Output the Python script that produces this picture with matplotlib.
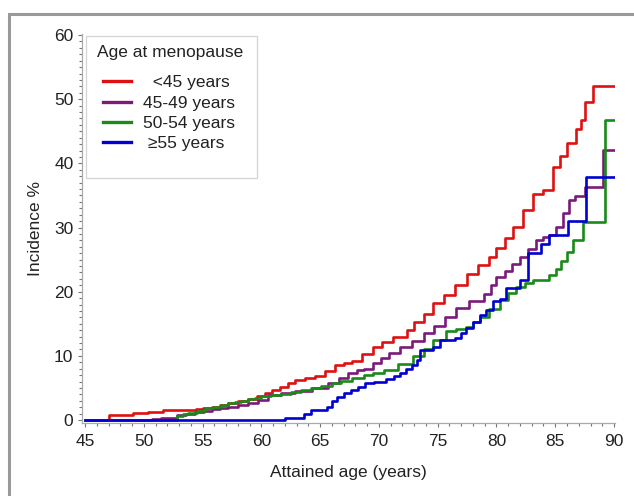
import matplotlib
matplotlib.use("Agg")
import matplotlib.pyplot as plt
from matplotlib.patches import Rectangle
from matplotlib.ticker import MultipleLocator

plt.rcParams['font.family'] = ['Liberation Sans', 'DejaVu Sans']

# cumulative incidence (%) by attained age
age_lt45 = [45, 47.0, 49.05, 50.4, 51.66, 54.4, 55.0, 55.8, 56.5, 57.2, 58.0, 58.9, 59.6,
            60.3, 60.9, 61.6, 62.3, 62.9, 63.7, 64.6, 65.4, 66.3, 67.0, 67.7, 68.6, 69.5,
            70.3, 71.2, 72.35, 73.0, 73.8, 74.6, 75.5, 76.5, 77.5, 78.4, 79.4, 80.0, 80.7,
            81.4, 82.3, 83.1, 84.0, 84.8, 85.4, 86.0, 86.8, 87.2, 87.5, 88.2, 90]
inc_lt45 = [0, 0.8, 1.05, 1.3, 1.55, 1.65, 1.8, 2.0, 2.3, 2.6, 2.9, 3.3, 3.8,
            4.2, 4.7, 5.2, 5.7, 6.2, 6.5, 6.9, 7.6, 8.6, 8.9, 9.2, 10.3, 11.4,
            12.2, 12.9, 14.0, 15.2, 16.5, 18.2, 19.5, 21.0, 22.8, 24.2, 25.4, 26.8, 28.4,
            30.1, 32.7, 35.3, 35.8, 39.5, 41.2, 43.1, 45.4, 46.7, 49.6, 52.0, 52.0]

age_4549 = [45, 50.67, 51.5, 52.8, 53.6, 54.35, 55.1, 55.8, 56.5, 57.2, 58.0, 58.9, 59.7,
            60.6, 61.7, 62.9, 64.3, 65.7, 66.6, 67.4, 68.1, 68.7, 69.5, 70.2, 70.9, 71.8,
            72.8, 73.8, 74.7, 75.6, 76.6, 77.7, 78.9, 79.5, 80.0, 80.7, 81.3, 82.0, 82.7,
            83.4, 84.0, 84.5, 85.1, 85.7, 86.2, 86.7, 87.5, 89.1, 90]
inc_4549 = [0, 0.15, 0.36, 0.78, 1.0, 1.25, 1.45, 1.66, 1.85, 2.08, 2.3, 2.6, 3.1,
            3.9, 4.2, 4.5, 5.0, 5.8, 6.5, 7.3, 7.8, 8.0, 8.9, 9.6, 10.4, 11.3,
            12.3, 13.5, 14.6, 16.0, 17.4, 18.5, 19.7, 21.0, 22.3, 23.3, 24.3, 25.4, 26.7,
            28.0, 28.6, 28.8, 30.1, 32.2, 34.3, 34.9, 36.3, 42.1, 42.1]

age_5054 = [45, 52.8, 53.3, 53.8, 54.5, 55.2, 55.9, 56.6, 57.2, 57.75, 58.3, 58.9, 59.5,
            60.0, 60.8, 61.7, 62.5, 63.4, 64.2, 65.1, 66.0, 66.8, 67.7, 68.7, 69.5, 70.4,
            71.6, 72.9, 73.8, 74.6, 75.75, 76.6, 77.45, 78.0, 78.6, 79.4, 80.3, 81.0, 81.7,
            82.4, 83.1, 84.5, 85.1, 85.5, 86.0, 86.5, 87.4, 89.2, 90]
inc_5054 = [0, 0.62, 0.9, 1.14, 1.45, 1.8, 2.1, 2.4, 2.6, 2.75, 3.0, 3.2, 3.45,
            3.7, 3.9, 4.05, 4.35, 4.67, 5.0, 5.3, 5.7, 6.07, 6.5, 7.0, 7.4, 7.8,
            8.8, 9.9, 11.0, 12.5, 13.8, 14.2, 14.5, 15.3, 16.1, 17.3, 18.7, 19.8, 20.8,
            21.3, 21.8, 22.6, 23.6, 24.8, 26.2, 28.0, 30.9, 46.7, 46.7]

age_ge55 = [45, 62.0, 63.6, 64.2, 65.6, 66.0, 66.4, 67.0, 67.6, 68.2, 68.8, 69.6, 70.6,
            71.3, 71.8, 72.3, 72.8, 73.2, 73.5, 74.6, 75.2, 76.5, 77.0, 77.45, 78.0, 78.6,
            79.1, 79.7, 80.3, 80.85, 82.0, 82.7, 83.8, 84.5, 86.1, 87.65, 90]
inc_ge55 = [0, 0.36, 0.88, 1.56, 2.0, 3.0, 3.6, 4.2, 4.7, 5.2, 5.8, 6.0, 6.4,
            6.9, 7.3, 7.9, 8.5, 9.3, 10.9, 11.4, 12.5, 12.8, 13.6, 14.4, 15.2, 16.3,
            17.2, 18.5, 18.8, 20.5, 21.8, 26.0, 27.5, 28.8, 31.0, 37.9, 37.9]

series = [
    ("  <45 years", age_lt45, inc_lt45, "#dd1111"),
    ("45-49 years", age_4549, inc_4549, "#7a1a7a"),
    ("50-54 years", age_5054, inc_5054, "#1a8a1a"),
    (" \u226555 years", age_ge55, inc_ge55, "#0000d0"),
]

W, H = 634, 496
fig = plt.figure(figsize=(W / 100, H / 100), dpi=100)
ax = fig.add_axes([82 / W, (H - 423) / H, 532.6 / W, 388.6 / H])

handles = []
for label, x, y, c in series:
    ln, = ax.step(x, y, where='post', color=c, lw=1.9, label=label)
    handles.append(ln)

ax.set_xlim(44.745, 90.05)
ax.set_ylim(-0.4675, 60.1)
ax.xaxis.set_major_locator(MultipleLocator(5))
ax.xaxis.set_minor_locator(MultipleLocator(1))
ax.yaxis.set_major_locator(MultipleLocator(10))
ax.yaxis.set_minor_locator(MultipleLocator(1))
ax.tick_params(which='both', colors='#777777', labelcolor='#222222', labelsize=12.5, width=0.8)
ax.tick_params(which='major', length=3.2)
ax.tick_params(axis='x', which='major', pad=5)
ax.tick_params(axis='y', which='major', pad=3)
ax.tick_params(which='minor', length=2.4)
for s in ['top', 'right']:
    ax.spines[s].set_visible(False)
for s in ['left', 'bottom']:
    ax.spines[s].set_color('#aaaaaa')
    ax.spines[s].set_linewidth(0.9)

ax.set_xlabel('Attained age (years)', fontsize=12.5, color='#222222', labelpad=11)
ax.set_ylabel('Incidence %', fontsize=12.5, color='#222222', labelpad=8)

# legend box, title and entries
ax.add_patch(Rectangle((0.0075, 0.6314), 0.3215, 0.3634, transform=ax.transAxes,
                       fill=False, edgecolor='#d4d4d4', lw=0.9, zorder=3))
ax.text(0.1662, 0.9547, 'Age at menopause', transform=ax.transAxes,
        ha='center', va='center', fontsize=12.5, color='#222222')
leg = ax.legend(handles=handles, loc='upper left', bbox_to_anchor=(0.0394, 0.895),
                frameon=False, fontsize=12.5, handlelength=1.6, handletextpad=0.7,
                labelspacing=0.3, borderpad=0, borderaxespad=0)
for t in leg.get_texts():
    t.set_color('#222222')
for h in leg.legend_handles:
    h.set_linewidth(2.4)

# grey frame around the panel (only top/left visible)
fig.add_artist(Rectangle((8.5 / W, -0.2), 1.2, (H - 13.5) / H + 0.2,
                         transform=fig.transFigure, fill=False,
                         edgecolor='#9a9a9a', lw=2.2))

fig.savefig('out.png', dpi=100)
